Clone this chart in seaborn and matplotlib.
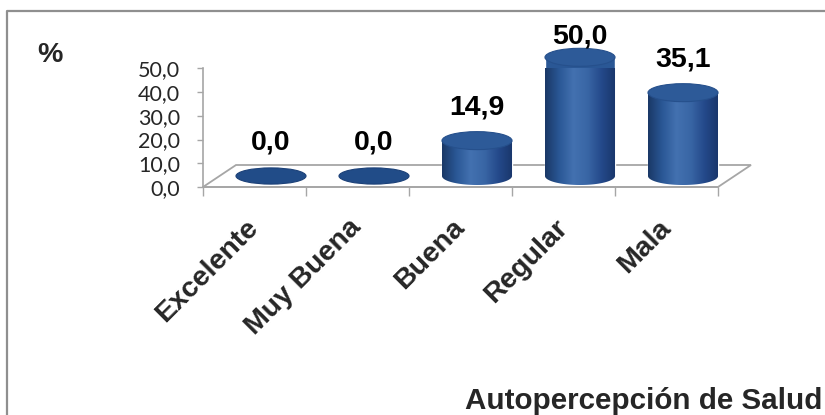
import numpy as np
import pandas as pd
import matplotlib
matplotlib.use("Agg")
import matplotlib.pyplot as plt
from matplotlib.patches import Ellipse, Polygon
from matplotlib.colors import LinearSegmentedColormap
from matplotlib.lines import Line2D
import seaborn as sns

# ── data ──────────────────────────────────────────────────────────────────────
categories   = ["Excelente", "Muy Buena", "Buena", "Regular", "Mala"]
values       = [0.0, 0.0, 14.9, 50.0, 35.1]
value_labels = ["0,0", "0,0", "14,9", "50,0", "35,1"]
yticks       = [0, 10, 20, 30, 40, 50]
ytick_labels = ["0,0", "10,0", "20,0", "30,0", "40,0", "50,0"]
unit_label   = "%"
axis_title   = "Autopercepción de Salud"

sns.set_theme(style="white")
plt.rcParams["font.family"] = ["Liberation Sans", "DejaVu Sans"]

GRAY = "#A6A6A6"
cyl_cmap = LinearSegmentedColormap.from_list(
    "cyl", ["#1A3866", "#2A5795", "#4371B0", "#3966A5", "#24498A", "#19366A"])

W, H = 825, 415
fig = plt.figure(figsize=(W / 100, H / 100), dpi=100, facecolor="white")
ax = fig.add_axes([203 / W, 1 - 187 / H, 515 / W, 118.7 / H])
ax.patch.set_visible(False)

df = pd.DataFrame({"cat": categories, "val": values})
sns.barplot(data=df, x="cat", y="val", color="#2A5795", saturation=1,
            width=0.68, ax=ax, zorder=3)

# pseudo-3D geometry (pixel offsets -> data units)
px_x = 515 / 5
px_y = 118.7 / 50
DX, DY = 16.5 / px_x, 11 / px_y      # depth offset of cylinder centres
EH = 18 / px_y                         # ellipse height

# floor
floor = Polygon([(-0.5, 0), (4.5, 0), (4.5 + 2 * DX, 2 * DY), (-0.5 + 2 * DX, 2 * DY)],
                closed=True, facecolor="white", edgecolor=GRAY, lw=1.3,
                zorder=1, clip_on=False)
ax.add_patch(floor)

grad = np.linspace(0, 1, 256).reshape(1, -1)
for p, lab in zip(ax.patches[:len(values)], value_labels):
    x0, w, h = p.get_x() + DX, p.get_width(), p.get_height()
    p.set_x(x0)
    p.set_y(DY)
    p.set_clip_on(False)
    cx, yb, yt = x0 + w / 2, DY, DY + h
    if h > 0:
        t = np.linspace(np.pi, 2 * np.pi, 60)
        arc = np.column_stack([cx + w / 2 * np.cos(t), yb + EH / 2 * np.sin(t)])
        body = np.vstack([[x0, yt], [x0, yb], arc, [x0 + w, yb], [x0 + w, yt]])
        clip = Polygon(body, closed=True, transform=ax.transData)
        im = ax.imshow(grad, cmap=cyl_cmap, aspect="auto", zorder=4,
                       extent=(x0, x0 + w, yb - EH / 2, yt), interpolation="bilinear")
        im.set_clip_path(clip)
        top = Ellipse((cx, yt), w, EH, facecolor="#2D5A98", edgecolor="#26508C",
                      lw=0.8, zorder=5, clip_on=False)
    else:
        p.set_visible(False)
        top = Ellipse((cx, yt), w, EH * 0.9, facecolor="#214C88", edgecolor="#1C4178",
                      lw=0.8, zorder=5, clip_on=False)
    ax.add_patch(top)
    ly = min(h + (11 + 26) / px_y, (187 - 44) / px_y)
    ax.text(cx, ly, lab, ha="center", va="baseline", fontsize=20.5,
            fontweight="bold", color="black", zorder=6, clip_on=False)

ax.set_xlim(-0.5, 4.5)
ax.set_ylim(0, 50)

# axes styling
for s in ["top", "right"]:
    ax.spines[s].set_visible(False)
for s in ["left", "bottom"]:
    ax.spines[s].set_color(GRAY)
    ax.spines[s].set_linewidth(1.2)

ax.set_yticks(yticks)
ax.set_yticklabels(ytick_labels, fontsize=15.5, family=["Lato", "DejaVu Sans"])
ax.tick_params(axis="y", left=True, length=4.3, width=1, color=GRAY, pad=12)

ax.set_xticks(range(len(categories)))
ax.set_xticklabels(categories, rotation=45, ha="right", va="center",
                   rotation_mode="anchor", fontsize=20.5, fontweight="bold")
ax.set_xticks(np.arange(-0.5, len(categories)), minor=True)
ax.tick_params(axis="x", which="major", bottom=True, length=0, pad=26.5)
ax.tick_params(axis="x", which="minor", bottom=True, length=6.5, width=1, color=GRAY)
ax.set_xlabel("")
ax.set_ylabel("")

# texts and chart border
fig.text(37 / W, 1 - 61.5 / H, unit_label, ha="left", va="baseline",
         fontsize=20.5, fontweight="bold")
fig.text(822 / W, 1 - 409 / H, axis_title, ha="right", va="baseline",
         fontsize=21.3, fontweight="bold")
fig.add_artist(Line2D([7 / W, 7 / W, 1], [0, 1 - 11 / H, 1 - 11 / H],
                      transform=fig.transFigure, color="#8F8F8F", lw=1.6))

fig.savefig("out.png", dpi=100)
